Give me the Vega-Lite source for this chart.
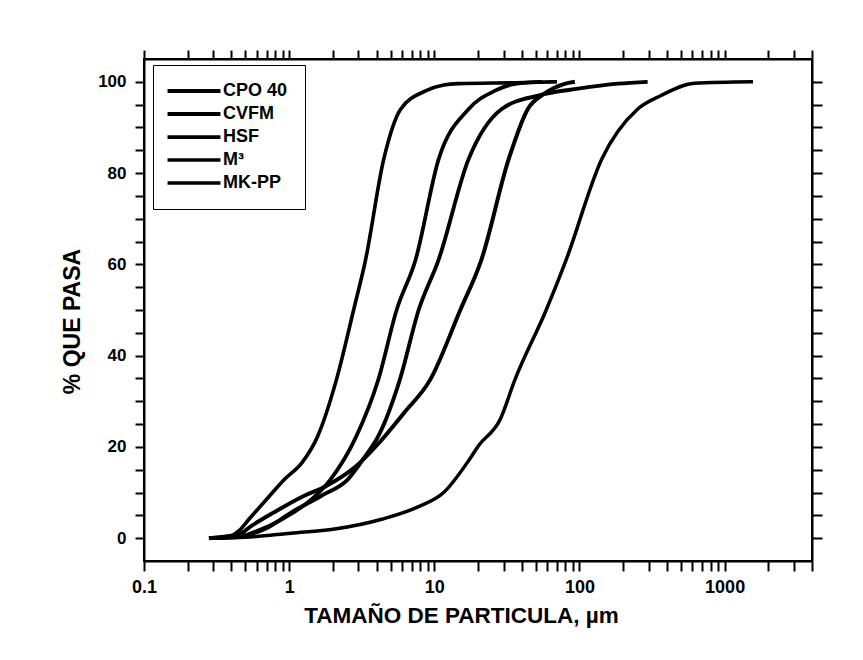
{
  "$schema": "https://vega.github.io/schema/vega-lite/v6.json",
  "autosize": {"type": "none"},
  "padding": {"left": 144, "top": 59, "right": 51, "bottom": 99},
  "width": 668,
  "height": 502,
  "background": "white",
  "config": {
    "font": "Liberation Sans",
    "view": {"stroke": "black", "strokeWidth": 2},
    "axis": {"grid": false, "domainColor": "black", "domainWidth": 2, "tickColor": "black", "tickWidth": 2, "labelColor": "black", "titleColor": "black", "labelFont": "Liberation Sans", "titleFont": "Liberation Sans", "labelFontWeight": "bold", "titleFontWeight": "bold", "labelOverlap": false, "labelFlush": false, "labelBound": false}
  },
  "datasets": {
    "curves": [
      {"s": "M³", "x": 0.28, "p": 0}, {"s": "M³", "x": 0.4, "p": 0.5}, {"s": "M³", "x": 0.45, "p": 1.6}, {"s": "M³", "x": 0.53, "p": 4.2}, {"s": "M³", "x": 0.73, "p": 9.2}, {"s": "M³", "x": 0.93, "p": 12.9}, {"s": "M³", "x": 1.23, "p": 16.6}, {"s": "M³", "x": 1.57, "p": 22.3}, {"s": "M³", "x": 2.12, "p": 34.8}, {"s": "M³", "x": 2.78, "p": 50}, {"s": "M³", "x": 3.36, "p": 61}, {"s": "M³", "x": 4.48, "p": 83}, {"s": "M³", "x": 5.86, "p": 94}, {"s": "M³", "x": 8.7, "p": 98}, {"s": "M³", "x": 11.6, "p": 99.3}, {"s": "M³", "x": 14.6, "p": 99.6}, {"s": "M³", "x": 36, "p": 99.8}, {"s": "M³", "x": 70, "p": 100},
      {"s": "HSF", "x": 0.3, "p": 0}, {"s": "HSF", "x": 0.45, "p": 0.3}, {"s": "HSF", "x": 0.6, "p": 1.6}, {"s": "HSF", "x": 0.9, "p": 4.2}, {"s": "HSF", "x": 1.51, "p": 9.2}, {"s": "HSF", "x": 1.93, "p": 12.9}, {"s": "HSF", "x": 2.9, "p": 22.3}, {"s": "HSF", "x": 4.12, "p": 34.8}, {"s": "HSF", "x": 5.5, "p": 50}, {"s": "HSF", "x": 7.43, "p": 61}, {"s": "HSF", "x": 10.7, "p": 83}, {"s": "HSF", "x": 17.2, "p": 94}, {"s": "HSF", "x": 26, "p": 98}, {"s": "HSF", "x": 37, "p": 99.6}, {"s": "HSF", "x": 55, "p": 100},
      {"s": "CVFM", "x": 0.3, "p": 0}, {"s": "CVFM", "x": 0.48, "p": 0.5}, {"s": "CVFM", "x": 0.68, "p": 2.0}, {"s": "CVFM", "x": 1.03, "p": 5.6}, {"s": "CVFM", "x": 1.67, "p": 9.3}, {"s": "CVFM", "x": 2.54, "p": 12.9}, {"s": "CVFM", "x": 3.35, "p": 18}, {"s": "CVFM", "x": 4.12, "p": 22.4}, {"s": "CVFM", "x": 5.8, "p": 34.8}, {"s": "CVFM", "x": 7.8, "p": 50}, {"s": "CVFM", "x": 10.7, "p": 61}, {"s": "CVFM", "x": 17.2, "p": 83}, {"s": "CVFM", "x": 29, "p": 94}, {"s": "CVFM", "x": 52, "p": 97}, {"s": "CVFM", "x": 98, "p": 98.5}, {"s": "CVFM", "x": 184, "p": 99.6}, {"s": "CVFM", "x": 295, "p": 100},
      {"s": "CPO 40", "x": 0.28, "p": 0}, {"s": "CPO 40", "x": 0.45, "p": 0.8}, {"s": "CPO 40", "x": 0.55, "p": 2.7}, {"s": "CPO 40", "x": 0.78, "p": 5.6}, {"s": "CPO 40", "x": 1.27, "p": 9.3}, {"s": "CPO 40", "x": 1.79, "p": 11.4}, {"s": "CPO 40", "x": 2.9, "p": 15.8}, {"s": "CPO 40", "x": 3.98, "p": 20.2}, {"s": "CPO 40", "x": 6.2, "p": 27.5}, {"s": "CPO 40", "x": 9.4, "p": 34.8}, {"s": "CPO 40", "x": 15.1, "p": 50}, {"s": "CPO 40", "x": 21.1, "p": 61}, {"s": "CPO 40", "x": 32.5, "p": 83}, {"s": "CPO 40", "x": 44, "p": 94}, {"s": "CPO 40", "x": 58, "p": 97.5}, {"s": "CPO 40", "x": 78, "p": 99.5}, {"s": "CPO 40", "x": 93, "p": 100},
      {"s": "MK-PP", "x": 0.3, "p": 0}, {"s": "MK-PP", "x": 0.5, "p": 0.2}, {"s": "MK-PP", "x": 1.03, "p": 1.1}, {"s": "MK-PP", "x": 2.06, "p": 2.0}, {"s": "MK-PP", "x": 4.4, "p": 4.2}, {"s": "MK-PP", "x": 7.65, "p": 6.8}, {"s": "MK-PP", "x": 11.6, "p": 10}, {"s": "MK-PP", "x": 17.5, "p": 17.3}, {"s": "MK-PP", "x": 20.1, "p": 20.2}, {"s": "MK-PP", "x": 28.4, "p": 26}, {"s": "MK-PP", "x": 36, "p": 34.8}, {"s": "MK-PP", "x": 59, "p": 50}, {"s": "MK-PP", "x": 81, "p": 61}, {"s": "MK-PP", "x": 142, "p": 83}, {"s": "MK-PP", "x": 251, "p": 94}, {"s": "MK-PP", "x": 365, "p": 97}, {"s": "MK-PP", "x": 620, "p": 99.7}, {"s": "MK-PP", "x": 1570, "p": 100}
    ]
  },
  "data": {"name": "curves"},
  "layer": [
    {
      "mark": {"type": "line", "color": "black", "interpolate": "monotone"},
      "encoding": {
        "x": {
          "field": "x", "type": "quantitative",
          "scale": {"type": "log", "domain": [0.1, 4000], "nice": false},
          "axis": {
            "orient": "bottom",
            "values": [0.1,0.2,0.3,0.4,0.5,0.6,0.7,0.8,0.9,1,2,3,4,5,6,7,8,9,10,20,30,40,50,60,70,80,90,100,200,300,400,500,600,700,800,900,1000,2000,3000,4000],
            "labelExpr": "abs(log(datum.value)/LN10 - round(log(datum.value)/LN10)) < 0.001 ? format(datum.value, '~g') : ''",
            "tickSize": 10,
            "encode": {"ticks": {"update": {"y2": {"signal": "abs(log(datum.value)/LN10 - round(log(datum.value)/LN10)) < 0.001 ? 10 : 5"}}}},
            "labelFontSize": 18, "labelPadding": 7,
            "title": "TAMAÑO DE PARTICULA, µm", "titleFontSize": 22.5, "titleX": 317, "titleY": 54, "titleBaseline": "middle", "titleAlign": "center"
          }
        },
        "y": {
          "field": "p", "type": "quantitative",
          "scale": {"domain": [-5, 105], "nice": false, "zero": false},
          "axis": {
            "orient": "left",
            "values": [0,5,10,15,20,25,30,35,40,45,50,55,60,65,70,75,80,85,90,95,100],
            "labelExpr": "datum.value % 20 === 0 ? datum.label : ''",
            "tickSize": 9,
            "encode": {"ticks": {"update": {"x2": {"signal": "datum.value % 20 === 0 ? -9 : -5"}}}},
            "labelFontSize": 17, "labelPadding": 9,
            "title": "% QUE PASA", "titleFontSize": 23, "titleX": -72, "titleY": 262, "titleAngle": 270, "titleBaseline": "middle", "titleAlign": "center"
          }
        },
        "strokeWidth": {
          "field": "s", "type": "ordinal",
          "scale": {"domain": ["CPO 40", "CVFM", "HSF", "M³", "MK-PP"], "range": [4, 3.5, 3.3, 3, 2.4]},
          "legend": {
            "orient": "none", "legendX": 9, "legendY": 6, "title": null,
            "symbolType": "M-5,0H5", "symbolSize": 112, "symbolOffset": 15, "symbolStrokeColor": "black", "symbolFillColor": "transparent",
            "labelOffset": 20, "labelFont": "Liberation Sans", "labelFontWeight": "bold", "labelFontSize": 18, "labelColor": "black",
            "padding": 17, "rowPadding": 5, "fillColor": "white", "strokeColor": "black"
          }
        }
      }
    },
    {
      "mark": {"type": "point", "opacity": 0},
      "encoding": {
        "x": {
          "field": "x", "type": "quantitative",
          "scale": {"type": "log", "domain": [0.1, 4000], "nice": false},
          "axis": {
            "orient": "top", "labels": false, "title": null,
            "values": [0.1,0.2,0.3,0.4,0.5,0.6,0.7,0.8,0.9,1,2,3,4,5,6,7,8,9,10,20,30,40,50,60,70,80,90,100,200,300,400,500,600,700,800,900,1000,2000,3000,4000],
            "tickSize": 9,
            "encode": {"ticks": {"update": {"y2": {"signal": "abs(log(datum.value)/LN10 - round(log(datum.value)/LN10)) < 0.001 ? 9 : 4"}}}}
          }
        },
        "y": {
          "field": "p", "type": "quantitative",
          "scale": {"domain": [-5, 105], "nice": false, "zero": false},
          "axis": {
            "orient": "right", "labels": false, "title": null,
            "values": [0,5,10,15,20,25,30,35,40,45,50,55,60,65,70,75,80,85,90,95,100],
            "tickSize": 10,
            "encode": {"ticks": {"update": {"x2": {"signal": "datum.value % 20 === 0 ? -10 : -5"}}}}
          }
        }
      }
    }
  ],
  "resolve": {"axis": {"x": "independent", "y": "independent"}}
}
